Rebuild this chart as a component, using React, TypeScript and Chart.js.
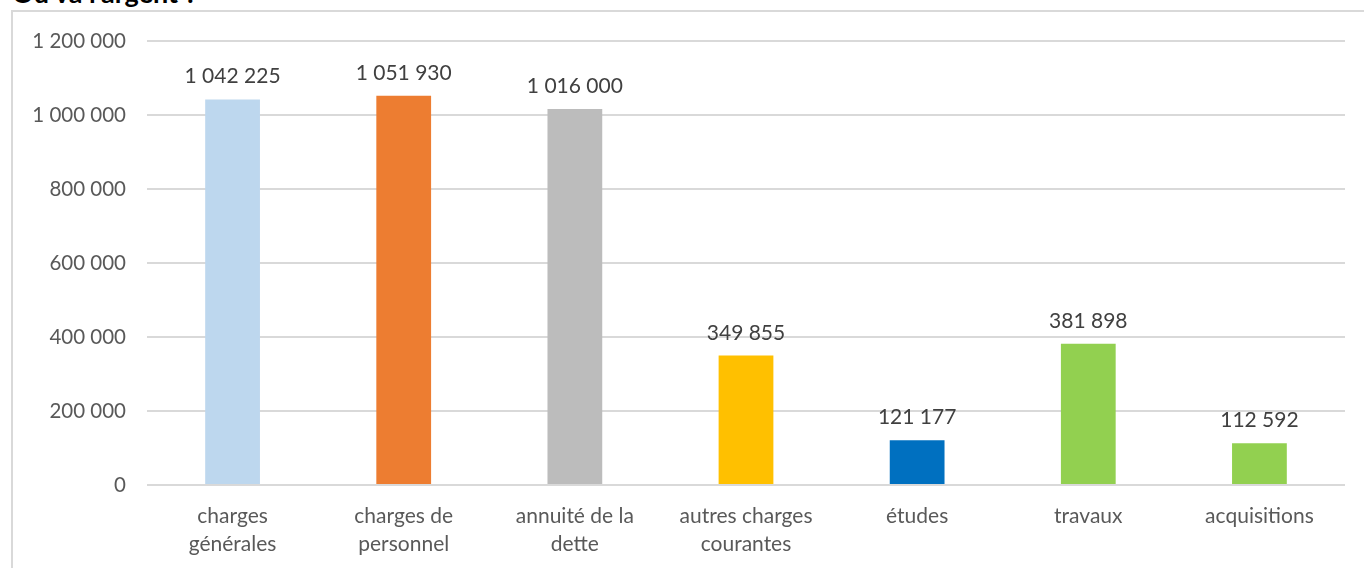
import React, { useEffect, useRef } from "react";
import { Chart, registerables } from "chart.js";

Chart.register(...registerables);

const categories: (string | string[])[] = [
  ["charges", "générales"],
  ["charges de", "personnel"],
  ["annuité de la", "dette"],
  ["autres charges", "courantes"],
  "études",
  "travaux",
  "acquisitions",
];
const values = [1042225, 1051930, 1016000, 349855, 121177, 381898, 112592];
const barColors = ["#BDD7EE", "#ED7D31", "#BCBCBC", "#FFC000", "#0070C0", "#92D050", "#92D050"];
const yTicks = [0, 200000, 400000, 600000, 800000, 1000000, 1200000];

const FONT = "Lato, 'Open Sans', sans-serif";

function fmt(n: number): string {
  return String(Math.round(n)).replace(/\B(?=(\d{3})+(?!\d))/g, " ");
}

const valueLabels = {
  id: "valueLabels",
  afterDatasetsDraw(chart: any) {
    const ctx = chart.ctx;
    const meta = chart.getDatasetMeta(0);
    ctx.save();
    ctx.font = `21px ${FONT}`;
    ctx.fillStyle = "#404040";
    ctx.textAlign = "center";
    ctx.textBaseline = "alphabetic";
    meta.data.forEach((bar: any, i: number) => {
      ctx.fillText(fmt(values[i]), bar.x, bar.y - 16);
    });
    ctx.restore();
  },
};

export default function App() {
  const ref = useRef<HTMLCanvasElement | null>(null);
  useEffect(() => {
    if (!ref.current) return;
    const chart = new Chart(ref.current, {
      type: "bar",
      data: {
        labels: categories,
        datasets: [
          {
            data: values,
            backgroundColor: barColors,
            barPercentage: 0.64,
            categoryPercentage: 0.5,
          },
        ],
      },
      options: {
        responsive: false,
        animation: false,
        layout: { padding: { top: 41, right: 19, left: 0, bottom: 0 } },
        plugins: { legend: { display: false }, tooltip: { enabled: false }, title: { display: false } },
        scales: {
          x: {
            grid: { display: false, drawTicks: false },
            border: { display: false },
            ticks: {
              color: "#595959",
              font: { family: FONT, size: 21, lineHeight: 1.33 },
              padding: 17,
              maxRotation: 0,
              autoSkip: false,
            },
            afterFit: (s: any) => {
              s.height = 83;
            },
          },
          y: {
            min: 0,
            max: 1200000,
            afterBuildTicks: (s: any) => {
              s.ticks = yTicks.map((v) => ({ value: v }));
            },
            grid: { color: "#D9D9D9", lineWidth: 2, drawTicks: false },
            border: { display: false },
            ticks: {
              color: "#595959",
              font: { family: FONT, size: 20.5 },
              padding: 21,
              callback: (v: any) => fmt(Number(v)),
            },
            afterFit: (s: any) => {
              s.width = 147;
            },
          },
        },
      },
      plugins: [valueLabels],
    });
    return () => chart.destroy();
  }, []);

  return (
    <div
      style={{
        position: "fixed",
        left: 0,
        top: 0,
        width: 1364,
        height: 568,
        overflow: "hidden",
        background: "#fff",
      }}
    >
      <div
        style={{
          position: "absolute",
          left: 12,
          top: -24,
          fontFamily: FONT,
          fontWeight: "bold",
          fontSize: 27,
          color: "#000",
          whiteSpace: "nowrap",
        }}
      >
        Où va l'argent ?
      </div>
      <div
        style={{
          position: "absolute",
          left: 11,
          top: 10,
          width: 1400,
          height: 600,
          border: "2px solid #D9D9D9",
        }}
      />
      <canvas
        ref={ref}
        width={1364}
        height={568}
        style={{ position: "absolute", left: 0, top: 0, width: 1364, height: 568 }}
      />
    </div>
  );
}
